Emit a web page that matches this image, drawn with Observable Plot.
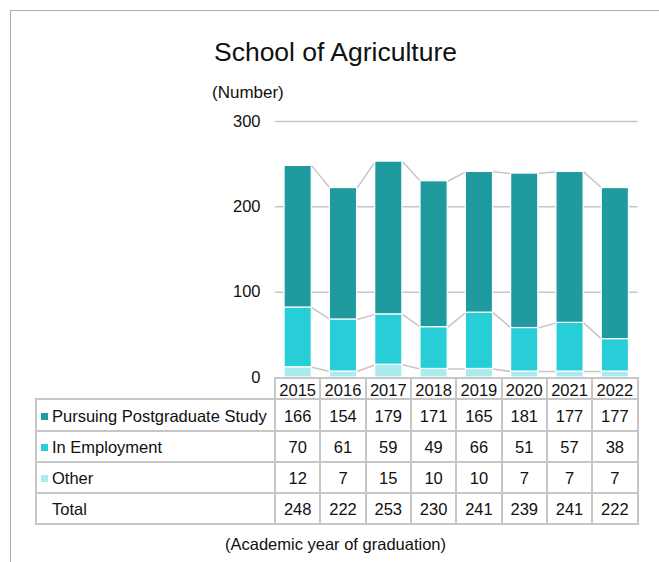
<!DOCTYPE html>
<html><head><meta charset="utf-8">
<script src="https://cdn.jsdelivr.net/npm/d3@7"></script>
<script src="https://cdn.jsdelivr.net/npm/@observablehq/plot@0.6"></script>
<style>
html,body{margin:0;padding:0;background:#fff;}
body{width:659px;height:562px;position:relative;overflow:hidden;font-family:"Liberation Sans",Arial,sans-serif;color:#111;}
#frame{position:absolute;left:10px;top:10px;width:700px;height:600px;border-left:1.5px solid #adadad;border-top:1.5px solid #adadad;}
#title{position:absolute;left:0;width:671px;top:39px;text-align:center;font-size:26.5px;line-height:1;white-space:nowrap;}
#unit{position:absolute;left:212px;top:84px;font-size:17px;line-height:1;white-space:nowrap;}
#caption{position:absolute;left:0;width:671px;top:536px;text-align:center;font-size:16.5px;line-height:1;white-space:nowrap;}
#chart{position:absolute;left:0;top:100px;}
.ln{position:absolute;background:#c6c6c6;}
.cell{position:absolute;display:flex;align-items:center;font-size:16.5px;line-height:1;white-space:nowrap;box-sizing:border-box;}
.sw{display:inline-block;width:7px;height:7px;margin-right:4px;margin-left:5px;}
</style>
</head><body>
<div id="frame"></div>
<div id="title">School of Agriculture</div>
<div id="unit">(Number)</div>
<div id="chart"></div>
<div id="table"></div>
<div id="caption">(Academic year of graduation)</div>
<script>
const years = ["2015","2016","2017","2018","2019","2020","2021","2022"];
const pursuing = [166,154,179,171,165,181,177,177];
const employment = [70,61,59,49,66,51,57,38];
const other = [12,7,15,10,10,7,7,7];
const totals = [248,222,253,230,241,239,241,222];
const seriesNames = ["Pursuing Postgraduate Study","In Employment","Other"];
const seriesColors = ["#1f9ba0","#28ced7","#a8ecef"];
const yTicks = [0,100,200,300];

// stack bottom-up: Other, In Employment, Pursuing
const stackOrder = [[other,"Other"],[employment,"In Employment"],[pursuing,"Pursuing Postgraduate Study"]];
const segs = [];
years.forEach((yr,i)=>{
  let base = 0;
  for (const [vals,name] of stackOrder){
    segs.push({i, year:yr, series:name, y1:base, y2:base+vals[i]});
    base += vals[i];
  }
});
const half = 0.3;
const links = [];
for (const [,name] of stackOrder){
  const s = segs.filter(d=>d.series===name);
  for (let k=0;k<s.length-1;k++){
    links.push({x1:s[k].i+half, x2:s[k+1].i-half, y1:s[k].y2, y2:s[k+1].y2});
  }
}

const chart = Plot.plot({
  width:659, height:280, marginLeft:275, marginRight:21.5, marginTop:21, marginBottom:3,
  style:{fontFamily:"Liberation Sans, Arial, sans-serif", fontSize:"16.5px", color:"#111", background:"transparent", overflow:"visible"},
  x:{type:"linear", domain:[-0.5, years.length-0.5], axis:null},
  y:{domain:[0,300], ticks:yTicks, label:null, tickSize:0, tickPadding:15},
  color:{domain:seriesNames, range:seriesColors},
  marks:[
    Plot.ruleY(yTicks.filter(t=>t>0), {stroke:"#c6c6c6", strokeWidth:1.5}),
    Plot.link(links, {x1:"x1", y1:"y1", x2:"x2", y2:"y2", stroke:"#c6c6c6", strokeWidth:1.5}),
    Plot.rect(segs, {x1:d=>d.i-half, x2:d=>d.i+half, y1:"y1", y2:"y2", fill:"series", stroke:"white", strokeWidth:1.2})
  ]
});
document.getElementById("chart").appendChild(chart);

// table aligned to the chart's x scale
const xs = chart.scale("x");
const colEdge = k => xs.apply(k-0.5); // left edge of column k
const tbl = document.getElementById("table");
const rowTops = [378, 399, 431, 462, 493, 524];
const labelLeft = 36;
const lw = 2;
function line(x,y,w,h){const d=document.createElement("div");d.className="ln";Object.assign(d.style,{left:x+"px",top:y+"px",width:w+"px",height:h+"px"});tbl.appendChild(d);}
function cell(x,y,w,h,content,opts={}){const d=document.createElement("div");d.className="cell";Object.assign(d.style,{left:x+"px",top:y+"px",width:w+"px",height:h+"px",justifyContent:opts.align||"center",paddingTop:(opts.pt||0)+"px"});if(typeof content==="string")d.textContent=content;else d.appendChild(content);tbl.appendChild(d);}
const right = colEdge(years.length);
// horizontal lines
line(colEdge(0)-lw/2, rowTops[0]-lw/2, right-colEdge(0)+lw, lw);
for (let r=1;r<rowTops.length;r++) line(labelLeft-lw/2, rowTops[r]-lw/2, right-labelLeft+lw, lw);
// vertical lines
line(labelLeft-lw/2, rowTops[1]-lw/2, lw, rowTops[5]-rowTops[1]+lw);
for (let k=0;k<=years.length;k++) line(colEdge(k)-lw/2, rowTops[0]-lw/2, lw, rowTops[5]-rowTops[0]+lw);
// header
years.forEach((yr,k)=>cell(colEdge(k), rowTops[0], colEdge(k+1)-colEdge(k), rowTops[1]-rowTops[0], yr, {pt:4}));
// rows
const rows = [
  {label:seriesNames[0], color:seriesColors[0], vals:pursuing},
  {label:seriesNames[1], color:seriesColors[1], vals:employment},
  {label:seriesNames[2], color:seriesColors[2], vals:other},
  {label:"Total", color:null, vals:totals}
];
rows.forEach((row,r)=>{
  const y0 = rowTops[r+1], h = rowTops[r+2]-y0;
  const span = document.createElement("span");
  span.style.display="flex"; span.style.alignItems="center";
  const sw = document.createElement("span"); sw.className="sw";
  sw.style.background = row.color || "transparent";
  span.appendChild(sw);
  const t = document.createElement("span"); t.textContent=row.label; span.appendChild(t);
  cell(labelLeft, y0, colEdge(0)-labelLeft, h, span, {align:"flex-start", pt:2});
  row.vals.forEach((v,k)=>cell(colEdge(k), y0, colEdge(k+1)-colEdge(k), h, String(v), {pt:2}));
});
</script>
</body></html>
